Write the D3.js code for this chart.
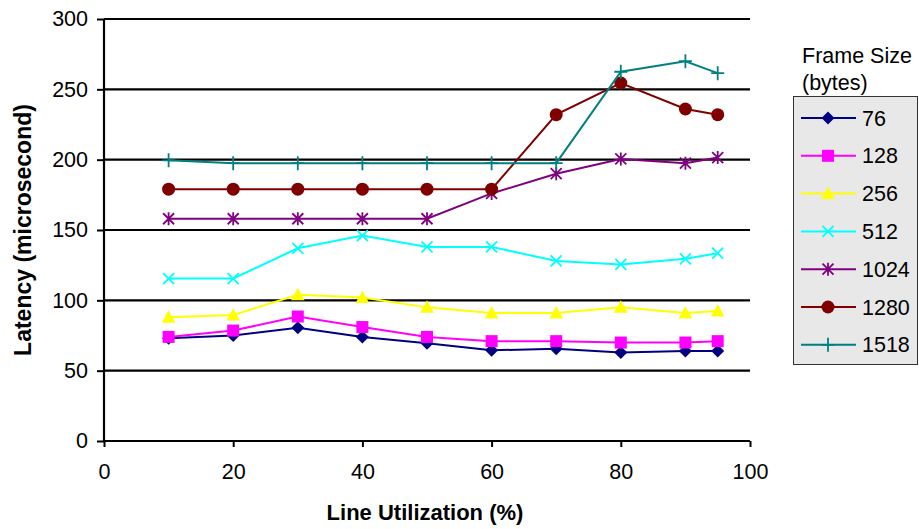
<!DOCTYPE html>
<html>
<head>
<meta charset="utf-8">
<script src="https://cdn.jsdelivr.net/npm/d3@7"></script>
<style>
  html, body { margin: 0; padding: 0; background: #fff; }
  svg { display: block; font-family: "Liberation Sans", Arial, sans-serif; }
</style>
</head>
<body>
<svg id="chart" width="919" height="529"></svg>
<script>
// Line utilization (%) sampled for every frame size
const utilization = [10, 20, 30, 40, 50, 60, 70, 80, 90, 95];

// Latency (microsecond) per frame size
const frame76   = [73, 75, 80.5, 74, 69.5, 64.5, 65.5, 63, 64, 64];
const frame128  = [74, 78.5, 88.5, 81, 74, 71, 71, 70, 70, 71];
const frame256  = [88, 89.5, 104, 102, 95, 91, 91, 95, 91, 92.5];
const frame512  = [115.5, 115.5, 137, 146, 138, 138, 128, 125.5, 129.5, 133.5];
const frame1024 = [158, 158, 158, 158, 158, 176, 190, 200.5, 197.5, 201.5];
const frame1280 = [179, 179, 179, 179, 179, 179, 232, 254.5, 236, 232];
const frame1518 = [199.5, 197.5, 197.5, 197.5, 197.5, 197.5, 197.5, 262.5, 270, 261.5];

const frameSizes = ["76", "128", "256", "512", "1024", "1280", "1518"];
const seriesValues = [frame76, frame128, frame256, frame512, frame1024, frame1280, frame1518];
const seriesColors = ["#000080", "#ff00ff", "#ffff00", "#00ffff", "#800080", "#800000", "#008080"];
const seriesMarkers = ["diamond", "square", "triangle", "cross", "asterisk", "circle", "plus"];

const xTicks = [0, 20, 40, 60, 80, 100];
const yTicks = [0, 50, 100, 150, 200, 250, 300];

const svg = d3.select("#chart");
const plot = { left: 104, right: 750, top: 19, bottom: 441 };
const labelFont = "21.5px";

const x = d3.scaleLinear().domain([0, 100]).range([plot.left, plot.right]);
const y = d3.scaleLinear().domain([0, 300]).range([plot.bottom, plot.top]);

// Marker shapes, centred on the origin
function markerPath(kind) {
  switch (kind) {
    case "diamond":  return "M0,-6.5L6.5,0L0,6.5L-6.5,0Z";
    case "square":   return "M-6,-6H6V6H-6Z";
    case "triangle": return "M0,-7L6.8,5.5H-6.8Z";
    case "cross":    return "M-5.5,-5.5L5.5,5.5M5.5,-5.5L-5.5,5.5";
    case "asterisk": return "M-5.5,-5.5L5.5,5.5M5.5,-5.5L-5.5,5.5M0,-6.5V6.5";
    case "plus":     return "M-6.5,0H6.5M0,-7V7";
    default:         return null;
  }
}

function drawMarker(g, kind, color) {
  if (kind === "circle") {
    g.append("circle").attr("r", 6.5).attr("fill", color);
    return;
  }
  const filled = ["diamond", "square", "triangle"].includes(kind);
  g.append("path")
    .attr("d", markerPath(kind))
    .attr("fill", filled ? color : "none")
    .attr("stroke", color)
    .attr("stroke-width", filled ? 0 : 1.8);
}

// Horizontal gridlines
svg.append("g")
  .selectAll("line")
  .data(yTicks.filter(d => d > 0))
  .join("line")
  .attr("x1", plot.left).attr("x2", plot.right)
  .attr("y1", d => y(d)).attr("y2", d => y(d))
  .attr("stroke", "#000").attr("stroke-width", 2.2);

// Axes
const yAxis = svg.append("g")
  .attr("transform", `translate(${plot.left},0)`)
  .call(d3.axisLeft(y).tickValues(yTicks).tickSize(7).tickPadding(9));
const xAxis = svg.append("g")
  .attr("transform", `translate(0,${plot.bottom})`)
  .call(d3.axisBottom(x).tickValues(xTicks).tickSize(6).tickPadding(16.5));

[yAxis, xAxis].forEach(a => {
  a.select(".domain").attr("stroke", "#000").attr("stroke-width", 2.2);
  a.selectAll(".tick line").attr("stroke", "#000").attr("stroke-width", 2);
  a.selectAll(".tick text")
    .attr("fill", "#000")
    .style("font-size", labelFont)
    .style("font-family", "'Liberation Sans', Arial, sans-serif");
});
yAxis.select(".domain").attr("d", `M0,${plot.bottom}V${plot.top}`);
xAxis.select(".domain").attr("d", `M${plot.left},0H${plot.right}`);
xAxis.selectAll(".tick text").attr("dy", "0.71em");

// Axis titles
svg.append("text")
  .attr("x", 425).attr("y", 520)
  .attr("text-anchor", "middle")
  .style("font-size", "22px").style("font-weight", "bold")
  .text("Line Utilization (%)");

svg.append("text")
  .attr("transform", "translate(31,230) rotate(-90)")
  .attr("text-anchor", "middle")
  .style("font-size", "23px").style("font-weight", "bold")
  .text("Latency (microsecond)");

// Series lines and markers
const line = d3.line()
  .x((d, i) => x(utilization[i]))
  .y(d => y(d));

seriesValues.forEach((vals, s) => {
  const g = svg.append("g").attr("class", "series");
  g.append("path")
    .datum(vals)
    .attr("d", line)
    .attr("fill", "none")
    .attr("stroke", seriesColors[s])
    .attr("stroke-width", 2);
  g.selectAll("g.pt")
    .data(vals)
    .join("g")
    .attr("class", "pt")
    .attr("transform", (d, i) => `translate(${x(utilization[i])},${y(d)})`)
    .each(function () { drawMarker(d3.select(this), seriesMarkers[s], seriesColors[s]); });
});

// Legend
const legend = svg.append("g");
legend.append("text")
  .attr("x", 802).attr("y", 63)
  .style("font-size", labelFont)
  .text("Frame Size");
legend.append("text")
  .attr("x", 802).attr("y", 90)
  .style("font-size", labelFont)
  .text("(bytes)");
legend.append("rect")
  .attr("x", 793.5).attr("y", 96.5)
  .attr("width", 124).attr("height", 268)
  .attr("fill", "#e8e8e8")
  .attr("stroke", "#333").attr("stroke-width", 1);

frameSizes.forEach((name, s) => {
  const cy = 118 + s * 37.8;
  const item = legend.append("g");
  item.append("line")
    .attr("x1", 801).attr("x2", 856)
    .attr("y1", cy).attr("y2", cy)
    .attr("stroke", seriesColors[s]).attr("stroke-width", 2);
  const m = item.append("g").attr("transform", `translate(828,${cy})`);
  drawMarker(m, seriesMarkers[s], seriesColors[s]);
  item.append("text")
    .attr("x", 862).attr("y", cy)
    .attr("dy", "0.35em")
    .style("font-size", labelFont)
    .text(name);
});
</script>
</body>
</html>
